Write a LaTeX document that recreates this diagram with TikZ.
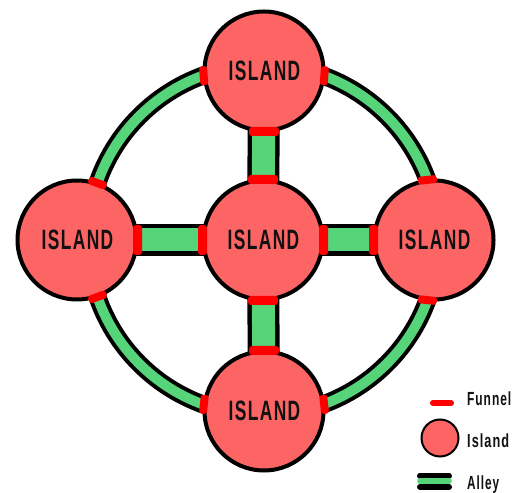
\documentclass[tikz,border=0pt]{standalone}
\usepackage{fontspec}
\setmainfont{Liberation Sans}
\newfontfamily\spacedfont[LetterSpace=8]{Liberation Sans}
\usetikzlibrary{calc}
\pgfdeclarelayer{bg}
\pgfsetlayers{bg,main}
\definecolor{islandred}{HTML}{FD6464}
\definecolor{alleygreen}{HTML}{55D47A}
\definecolor{funnelred}{HTML}{FF0000}
\definecolor{txt}{HTML}{111111}
\tikzset{
  island/.style={circle, draw=black, line width=4pt, fill=islandred,
    minimum size=119pt, inner sep=0pt, outer sep=0pt, text=txt,
    font=\spacedfont\bfseries\fontsize{28}{30}\selectfont},
  ringblack/.style={draw=black, line width=18pt},
  ringgreen/.style={draw=alleygreen, line width=10pt},
  alleyblack/.style={draw=black, line width=32pt},
  greenband/.style={draw=alleygreen, line width=23pt},
  funnelbig/.style={rectangle, fill=funnelred, rounded corners=3pt,
    minimum width=9pt, minimum height=30pt, inner sep=0pt},
  funnelsmall/.style={rectangle, fill=funnelred, rounded corners=3pt,
    minimum width=8pt, minimum height=19pt, inner sep=0pt},
  legendtext/.style={text=txt, font=\spacedfont\bfseries\fontsize{19}{21}\selectfont,
    anchor=base west, inner sep=0pt},
}
\newcommand{\islandword}{\hspace*{1pt}\scalebox{0.62}[1]{ISLAND}}
\begin{document}
\begin{tikzpicture}[x=1pt,y=1pt]
\useasboundingbox (0,0) rectangle (521,492);

% islands
\node[island] (T) at (264,421) {\islandword};
\node[island] (L) at (77,252) {\islandword};
\node[island] (C) at (263,252) {\islandword};
\node[island] (R) at (434,252) {\islandword};
\node[island] (B) at (264,81) {\islandword};

\begin{pgfonlayer}{bg}
  % ring alley around the centre island
  \draw[ringblack] (C.center) circle[radius=175pt];
  \draw[ringgreen] (C.center) circle[radius=175pt];
  % straight alleys
  \draw[alleyblack] (T.center) -- (C.center);
  \draw[alleyblack] (B.center) -- (C.center);
  \draw[alleyblack] (L.center) -- (C.center);
  \draw[alleyblack] (R.center) -- (C.center);
  \draw[greenband] (T.center) -- (C.center);
  \draw[greenband] (B.center) -- (C.center);
  \draw[greenband] (L.center) -- (C.center);
  \draw[greenband] (R.center) -- (C.center);
\end{pgfonlayer}

% funnels on straight alleys
\node[funnelbig, rotate=270] (fT) at ([shift={(270:60.5pt)}]T.center) {};
\node[funnelbig, rotate=90]  (fCt) at ([shift={(90:60.5pt)}]C.center) {};
\node[funnelbig, rotate=270] (fCb) at ([shift={(270:60.5pt)}]C.center) {};
\node[funnelbig, rotate=180] (fCl) at ([shift={(180:60.5pt)}]C.center) {};
\node[funnelbig, rotate=0]   (fCr) at ([shift={(0:60.5pt)}]C.center) {};
\node[funnelbig, rotate=0]   (fL) at ([shift={(0:60.5pt)}]L.center) {};
\node[funnelbig, rotate=180] (fR) at ([shift={(180:60.5pt)}]R.center) {};
\node[funnelbig, rotate=90]  (fB) at ([shift={(90:60.5pt)}]B.center) {};

% funnels on ring alley
\node[funnelsmall, rotate=184.5] (rT1) at ([shift={(184.5:60.5pt)}]T.center) {};
\node[funnelsmall, rotate=355.5] (rT2) at ([shift={(355.5:60.5pt)}]T.center) {};
\node[funnelsmall, rotate=70.2]  (rL1) at ([shift={(70.2:60.5pt)}]L.center) {};
\node[funnelsmall, rotate=-70.2] (rL2) at ([shift={(-70.2:60.5pt)}]L.center) {};
\node[funnelsmall, rotate=96.3]  (rR1) at ([shift={(96.3:60.5pt)}]R.center) {};
\node[funnelsmall, rotate=-96.3] (rR2) at ([shift={(-96.3:60.5pt)}]R.center) {};
\node[funnelsmall, rotate=173.7] (rB1) at ([shift={(173.7:60.5pt)}]B.center) {};
\node[funnelsmall, rotate=6.3]   (rB2) at ([shift={(6.3:60.5pt)}]B.center) {};

% legend
\coordinate (lf1) at (433,89);
\coordinate (lf2) at (451,89);
\draw[funnelred, line width=6pt, line cap=round] (lf1) -- (lf2);
\node[legendtext] (tFunnel) at (467,86) {\scalebox{0.63}[1]{Funnel}};

\node[circle, draw=black, line width=2pt, fill=islandred, minimum size=37pt,
  inner sep=0pt] (legIsland) at (440,54) {};
\node[legendtext] (tIsland) at (467,45) {\scalebox{0.67}[1]{Island}};

\coordinate (la1) at (420,16.5);
\coordinate (la2) at (449,16.5);
\coordinate (lb1) at (420,5);
\coordinate (lb2) at (449,5);
\coordinate (lg1) at (420,11);
\coordinate (lg2) at (449,11);
\draw[black, line width=6pt, line cap=round] (la1) -- (la2);
\draw[black, line width=6pt, line cap=round] (lb1) -- (lb2);
\draw[alleygreen, line width=5.5pt, line cap=round] (lg1) -- (lg2);
\node[legendtext] (tAlley) at (467,3) {\scalebox{0.62}[1]{Alley}};
\end{tikzpicture}
\end{document}
